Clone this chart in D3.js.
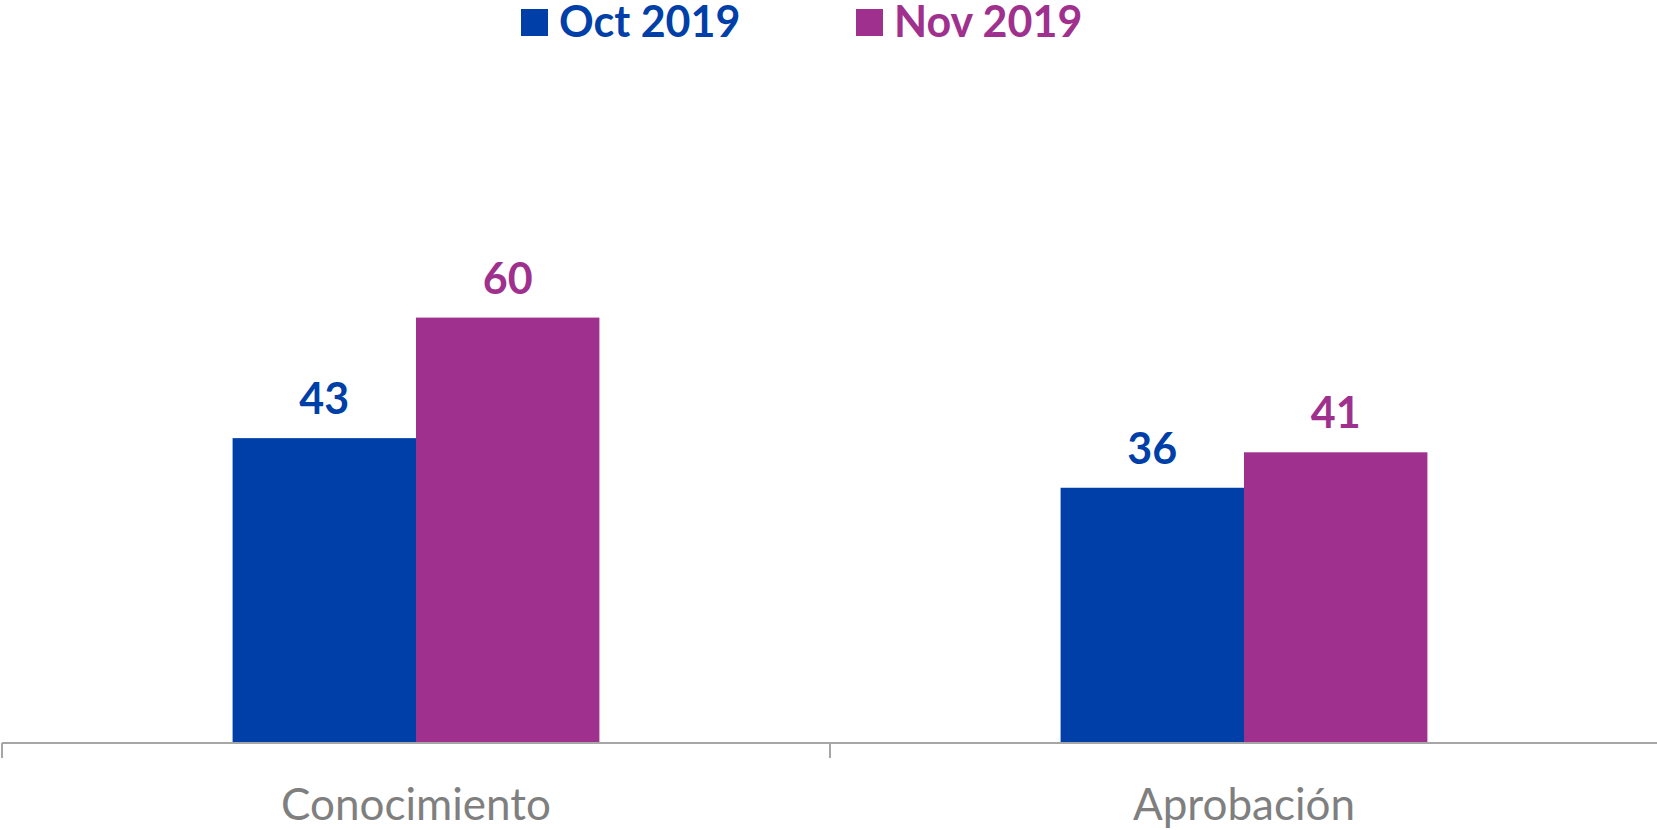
<!DOCTYPE html>
<html>
<head>
<meta charset="utf-8">
<script src="https://cdn.jsdelivr.net/npm/d3@7"></script>
<style>
  html, body { margin: 0; padding: 0; background: #fff; }
  svg { display: block; }
</style>
</head>
<body>
<div id="chart"></div>
<script>
const categories = ['Conocimiento', 'Aprobación']
const seriesNames = ['Oct 2019', 'Nov 2019']
const octValues = [43, 36]
const novValues = [60, 41]
const seriesColors = ['#003FA8', '#9F308E']

const width = 1657
const height = 830
const baseline = 743

const svg = d3.select('#chart').append('svg')
  .attr('width', width)
  .attr('height', height)
  .attr('font-family', 'Lato, sans-serif')

const data = categories.map((c, i) => ({
  cat: c,
  values: [octValues[i], novValues[i]]
}))

const x0 = d3.scaleBand()
  .domain(categories)
  .range([2, 1658])
  .paddingInner(0.557)
  .paddingOuter(0.2785)

const x1 = d3.scaleBand()
  .domain(seriesNames)
  .range([0, x0.bandwidth()])

const y = d3.scaleLinear()
  .domain([0, 100])
  .range([baseline, baseline - 709])

// bars
const groups = svg.append('g')
  .selectAll('g')
  .data(data)
  .join('g')
  .attr('transform', d => `translate(${x0(d.cat)},0)`)

groups.selectAll('rect')
  .data(d => d.values.map((v, i) => ({ name: seriesNames[i], value: v, i })))
  .join('rect')
  .attr('x', d => x1(d.name))
  .attr('y', d => y(d.value))
  .attr('width', x1.bandwidth())
  .attr('height', d => baseline - y(d.value))
  .attr('fill', d => seriesColors[d.i])

groups.selectAll('text')
  .data(d => d.values.map((v, i) => ({ name: seriesNames[i], value: v, i })))
  .join('text')
  .attr('x', d => x1(d.name) + x1.bandwidth() / 2)
  .attr('y', d => y(d.value) - 24)
  .attr('text-anchor', 'middle')
  .attr('font-size', 43)
  .attr('font-weight', 'bold')
  .attr('fill', d => seriesColors[d.i])
  .text(d => d.value)

// axis
const step = x0.step()
const axisG = svg.append('g').attr('stroke', '#A6A6A6').attr('stroke-width', 2)
axisG.append('line')
  .attr('x1', 2).attr('x2', width)
  .attr('y1', baseline).attr('y2', baseline)
axisG.selectAll('line.tick')
  .data(d3.range(categories.length + 1))
  .join('line')
  .attr('class', 'tick')
  .attr('x1', i => 2 + i * step).attr('x2', i => 2 + i * step)
  .attr('y1', baseline).attr('y2', baseline + 15)

svg.append('g')
  .selectAll('text')
  .data(categories)
  .join('text')
  .attr('x', d => x0(d) + x0.bandwidth() / 2)
  .attr('y', 820)
  .attr('text-anchor', 'middle')
  .attr('font-size', 44)
  .attr('fill', '#7F7F7F')
  .text(d => d)

// legend
const legendX = [521, 856]
const legend = svg.append('g')
  .selectAll('g')
  .data(seriesNames)
  .join('g')
  .attr('transform', (d, i) => `translate(${legendX[i]},0)`)

legend.append('rect')
  .attr('x', 0).attr('y', 9)
  .attr('width', 27).attr('height', 27)
  .attr('fill', (d, i) => seriesColors[i])

legend.append('text')
  .attr('x', 38)
  .attr('y', 37)
  .attr('font-size', 43)
  .attr('font-weight', 'bold')
  .attr('fill', (d, i) => seriesColors[i])
  .text(d => d)
</script>
</body>
</html>
